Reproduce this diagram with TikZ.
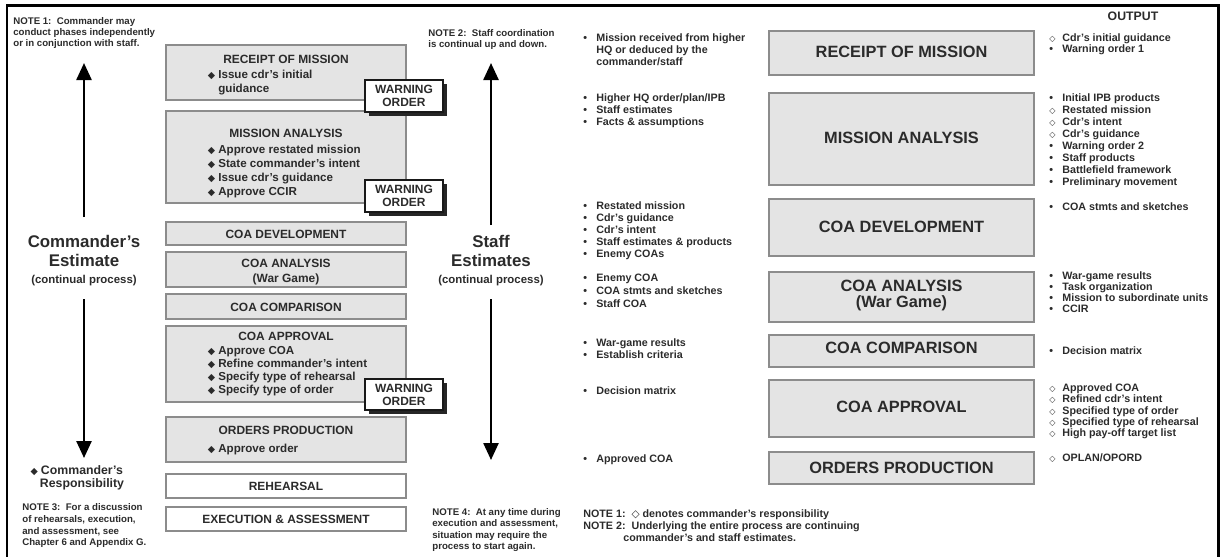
\documentclass[tikz,border=0pt]{standalone}
\usepackage{fontspec}
\setmainfont{Liberation Sans}
\newfontfamily\symfont{DejaVu Sans}
\usetikzlibrary{arrows.meta,fit,shadows}

\definecolor{boxgray}{HTML}{E4E4E4}
\definecolor{ink}{HTML}{2B2B2B}

% markers in front of list lines
\newcommand{\bl}{\llap{\makebox[7.4pt][l]{\textbullet}}}
\newcommand{\dm}{\llap{\makebox[7.4pt][l]{\symfont\fontsize{4.6}{5}\selectfont ◇}}}
\newcommand{\cdr}{\llap{{\symfont\fontsize{5.4}{6}\selectfont ◆}\hspace{1.8pt}}}

\tikzset{
  every node/.style={text=ink, inner sep=0pt},
  procbox/.style={draw=black!45, line width=.7pt, fill=boxgray},
  plainbox/.style={procbox, fill=white},
  warnbox/.style={draw=black!90, line width=.6pt, fill=white,
    drop shadow={shadow xshift=.07cm, shadow yshift=-.07cm, fill=black!85, opacity=1}},
  wotxt/.style={align=center, font=\fontsize{6.8}{7.4}\selectfont\bfseries},
  ltitle/.style={anchor=mid, font=\fontsize{6.8}{8}\selectfont\bfseries},
  lbul/.style={anchor=mid west, font=\fontsize{6.6}{8}\selectfont\bfseries},
  rtitle/.style={anchor=mid, font=\fontsize{9.3}{11}\selectfont\bfseries},
  bigtxt/.style={anchor=mid, font=\fontsize{9.6}{11}\selectfont\bfseries},
  subtxt/.style={anchor=mid, font=\fontsize{6.5}{8}\selectfont\bfseries},
  note/.style={anchor=mid west, font=\fontsize{5.5}{6.3}\selectfont\bfseries},
  io/.style={anchor=mid west, font=\fontsize{6.1}{7}\selectfont\bfseries},
  bigarrow/.style={line width=1.4pt, -{Triangle[length=.34cm, width=.3cm]}},
}

\begin{document}
\begin{tikzpicture}[x=0.02cm, y=-0.02cm]
	\useasboundingbox (0,0) rectangle (1220,556);
	\draw[line width=1.7pt] (7,560) -- (7,5) -- (1218,5) -- (1218,560);

	% commander's estimate
	\foreach \t [count=\i from 0] in {NOTE 1:\ \ Commander may, conduct phases independently, or in conjunction with staff.}
		\node[note] (na\i) at (13,20+10.8*\i) {\t};
	\coordinate (cu0) at (84,217);
	\coordinate (cu1) at (84,63);
	\draw[bigarrow] (cu0) -- (cu1);
	\node[bigtxt] (ce1) at (84,243) {Commander's};
	\node[bigtxt] (ce2) at (84,262) {Estimate};
	\node[subtxt] (ce3) at (84,279) {(continual process)};
	\coordinate (cd0) at (84,299);
	\coordinate (cd1) at (84,458);
	\draw[bigarrow] (cd0) -- (cd1);
	\node[subtxt, font=\fontsize{7}{8}\selectfont\bfseries] (cr1) at (82,470) {\cdr Commander's};
	\node[subtxt, font=\fontsize{7}{8}\selectfont\bfseries] (cr2) at (82,483) {Responsibility};
	\foreach \t [count=\i from 0] in {NOTE 3:\ \ For a discussion, {of rehearsals, execution,}, {and assessment, see}, Chapter 6 and Appendix G.}
		\node[note] (nc\i) at (22,506+11.7*\i) {\t};

	% process steps, left
	\node[procbox, fit={(166,45) (406,100)}] (rom) {};
	\node[procbox, fit={(166,111) (406,203)}] (ma) {};
	\node[procbox, fit={(166,222) (406,245)}] (dev) {};
	\node[procbox, fit={(166,252) (406,287)}] (ana) {};
	\node[procbox, fit={(166,294) (406,319)}] (cmp) {};
	\node[procbox, fit={(166,326) (406,402)}] (apr) {};
	\node[procbox, fit={(166,417) (406,462)}] (op) {};
	\node[plainbox, fit={(166,474) (406,498)}] (reh) {};
	\node[plainbox, fit={(166,507) (406,531)}] (exe) {};

	\node[ltitle] (romt) at (286,59) {RECEIPT OF MISSION};
	\node[lbul] (romb0) at (218,74) {\cdr Issue cdr's initial};
	\node[lbul] (romb1) at (218,88) {guidance};
	\node[ltitle] (mat) at (286,133) {MISSION ANALYSIS};
	\foreach \t [count=\i from 0] in {Approve restated mission, State commander's intent, Issue cdr's guidance, Approve CCIR}
		\node[lbul] (mab\i) at (218,149+14*\i) {\cdr\t};
	\node[ltitle] (devt) at (286,233.5) {COA DEVELOPMENT};
	\node[ltitle] (anat) at (286,263) {COA ANALYSIS};
	\node[ltitle] (anas) at (286,278) {(War Game)};
	\node[ltitle] (cmpt) at (286,307) {COA COMPARISON};
	\node[ltitle] (aprt) at (286,336) {COA APPROVAL};
	\foreach \t [count=\i from 0] in {Approve COA, Refine commander's intent, Specify type of rehearsal, Specify type of order}
		\node[lbul] (aprb\i) at (218,350+13*\i) {\cdr\t};
	\node[ltitle] (opt) at (286,430) {ORDERS PRODUCTION};
	\node[lbul] (opb) at (218,448) {\cdr Approve order};
	\node[ltitle] (reht) at (286,486) {REHEARSAL};
	\node[ltitle] (exet) at (286,519) {EXECUTION \& ASSESSMENT};

	% warning orders
	\foreach \a/\b [count=\i] in {80/112, 180/212, 379/410} {
		\node[warnbox, fit={(365,\a) (443,\b)}] (wo\i) {};
		\node[wotxt] (wot\i) at (wo\i) {WARNING\\ORDER};
	}

	% staff estimates
	\foreach \t [count=\i from 0] in {NOTE 2:\ \ Staff coordination, is continual up and down.}
		\node[note] (nb\i) at (428,32+10.6*\i) {\t};
	\coordinate (su0) at (491,225);
	\coordinate (su1) at (491,63);
	\draw[bigarrow] (su0) -- (su1);
	\node[bigtxt] (se1) at (491,243) {Staff};
	\node[bigtxt] (se2) at (491,262) {Estimates};
	\node[subtxt] (se3) at (491,279) {(continual process)};
	\coordinate (sd0) at (491,299);
	\coordinate (sd1) at (491,460);
	\draw[bigarrow] (sd0) -- (sd1);
	\foreach \t [count=\i from 0] in {NOTE 4:\ \ At any time during, {execution and assessment,}, situation may require the, process to start again.}
		\node[note] (nd\i) at (432,511+11.3*\i) {\t};

	% inputs
	\foreach \y/\d/\items in {
			37/12/{\bl Mission received from higher, HQ or deduced by the, commander/staff},
			97/11.7/{\bl Higher HQ order/plan/IPB, \bl Staff estimates, \bl Facts \& assumptions},
			205/12/{\bl Restated mission, \bl Cdr's guidance, \bl Cdr's intent, \bl Staff estimates \& products, \bl Enemy COAs},
			277/12.8/{\bl Enemy COA, \bl COA stmts and sketches, \bl Staff COA},
			342/11.5/{\bl War-game results, \bl Establish criteria},
			390/12/{\bl Decision matrix},
			458/12/{\bl Approved COA}}
		\foreach \t [count=\i from 0] in \items
			\node[io] (in\y-\i) at (596,\y+\d*\i) {\t};

	% process steps, right
	\node[procbox, fit={(769,31) (1034,75)}] (rrom) {};
	\node[procbox, fit={(769,93) (1034,185)}] (rma) {};
	\node[procbox, fit={(769,199) (1034,256)}] (rdev) {};
	\node[procbox, fit={(769,272) (1034,322)}] (rana) {};
	\node[procbox, fit={(769,335) (1034,367)}] (rcmp) {};
	\node[procbox, fit={(769,380) (1034,437)}] (rapr) {};
	\node[procbox, fit={(769,452) (1034,484)}] (rop) {};
	\node[rtitle] (rromt) at (901.5,53) {RECEIPT OF MISSION};
	\node[rtitle] (rmat) at (901.5,139) {MISSION ANALYSIS};
	\node[rtitle] (rdevt) at (901.5,228) {COA DEVELOPMENT};
	\node[rtitle] (ranat) at (901.5,287) {COA ANALYSIS};
	\node[rtitle] (ranas) at (901.5,303) {(War Game)};
	\node[rtitle] (rcmpt) at (901.5,349) {COA COMPARISON};
	\node[rtitle] (raprt) at (901.5,408) {COA APPROVAL};
	\node[rtitle] (ropt) at (901.5,469) {ORDERS PRODUCTION};

	% outputs
	\node[anchor=mid, font=\fontsize{7}{8}\selectfont\bfseries] (outh) at (1133,16) {OUTPUT};
	\foreach \y/\d/\items in {
			37/11/{\dm Cdr's initial guidance, \bl Warning order 1},
			97/12/{\bl Initial IPB products, \dm Restated mission, \dm Cdr's intent, \dm Cdr's guidance, \bl Warning order 2, \bl Staff products, \bl Battlefield framework, \bl Preliminary movement},
			206/12/{\bl COA stmts and sketches},
			275/10.8/{\bl War-game results, \bl Task organization, \bl Mission to subordinate units, \bl CCIR},
			350/12/{\bl Decision matrix},
			387/11.2/{\dm Approved COA, \dm Refined cdr's intent, \dm Specified type of order, \dm Specified type of rehearsal, \dm High pay-off target list},
			457/12/{\dm OPLAN/OPORD}}
		\foreach \t [count=\i from 0] in \items
			\node[io] (out\y-\i) at (1062,\y+\d*\i) {\t};

	% notes under the steps
	\node[io] (be1) at (583,513) {NOTE 1:\ \ {\symfont\fontsize{6}{7}\selectfont ◇} denotes commander's responsibility};
	\node[io] (be2) at (583,525) {NOTE 2:\ \ Underlying the entire process are continuing};
	\node[io] (be3) at (623,537) {commander's and staff estimates.};
\end{tikzpicture}
\end{document}
